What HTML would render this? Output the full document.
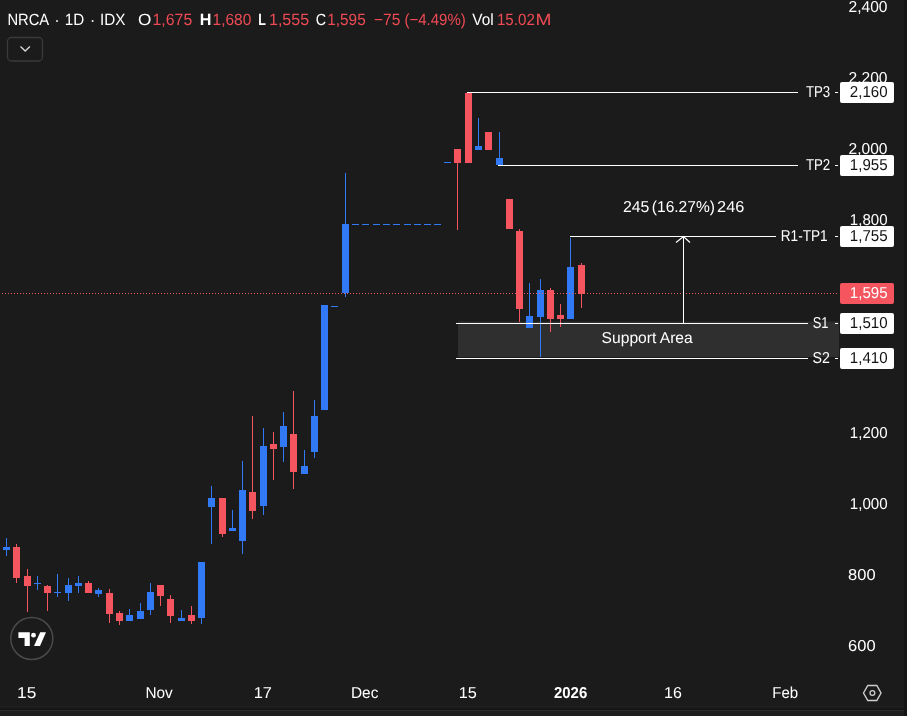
<!DOCTYPE html>
<html><head><meta charset="utf-8"><style>
html,body{margin:0;padding:0;background:#1b1b1b;width:907px;height:716px;overflow:hidden}
svg{display:block}
text{font-family:"Liberation Sans",sans-serif;text-rendering:geometricPrecision}
</style></head><body>
<svg width="907" height="716" viewBox="0 0 907 716">
<rect width="907" height="716" fill="#1b1b1b"/>
<rect x="458" y="321.5" width="381" height="35.5" fill="#2f2f2f"/>
<rect x="6" y="538" width="1" height="18" fill="#3179f5"/>
<rect x="3" y="547" width="7" height="3" fill="#3179f5"/>
<rect x="16" y="544" width="1" height="39" fill="#f5555f"/>
<rect x="13" y="547" width="7" height="31" fill="#f5555f"/>
<rect x="27" y="569" width="1" height="43" fill="#f5555f"/>
<rect x="24" y="576" width="7" height="10" fill="#f5555f"/>
<rect x="37" y="576" width="1" height="14" fill="#3179f5"/>
<rect x="34" y="583" width="7" height="1" fill="#3179f5"/>
<rect x="47" y="585" width="1" height="26" fill="#f5555f"/>
<rect x="44" y="586" width="7" height="7" fill="#f5555f"/>
<rect x="57" y="574" width="1" height="23" fill="#3179f5"/>
<rect x="54" y="592" width="7" height="1" fill="#3179f5"/>
<rect x="68" y="578" width="1" height="23" fill="#3179f5"/>
<rect x="65" y="585" width="7" height="8" fill="#3179f5"/>
<rect x="78" y="576" width="1" height="17" fill="#3179f5"/>
<rect x="75" y="583" width="7" height="3" fill="#3179f5"/>
<rect x="88" y="581" width="1" height="12" fill="#f5555f"/>
<rect x="85" y="583" width="7" height="10" fill="#f5555f"/>
<rect x="98" y="588" width="1" height="9" fill="#3179f5"/>
<rect x="95" y="590" width="7" height="4" fill="#3179f5"/>
<rect x="109" y="589" width="1" height="34" fill="#f5555f"/>
<rect x="106" y="593" width="7" height="21" fill="#f5555f"/>
<rect x="119" y="611" width="1" height="14" fill="#f5555f"/>
<rect x="116" y="613" width="7" height="8" fill="#f5555f"/>
<rect x="129" y="609" width="1" height="12" fill="#3179f5"/>
<rect x="126" y="615" width="7" height="6" fill="#3179f5"/>
<rect x="140" y="603" width="1" height="16" fill="#3179f5"/>
<rect x="137" y="611" width="7" height="8" fill="#3179f5"/>
<rect x="150" y="583" width="1" height="32" fill="#3179f5"/>
<rect x="147" y="592" width="7" height="18" fill="#3179f5"/>
<rect x="160" y="585" width="1" height="21" fill="#f5555f"/>
<rect x="157" y="585" width="7" height="11" fill="#f5555f"/>
<rect x="170" y="595" width="1" height="28" fill="#f5555f"/>
<rect x="167" y="599" width="7" height="17" fill="#f5555f"/>
<rect x="181" y="610" width="1" height="11" fill="#3179f5"/>
<rect x="178" y="618" width="7" height="3" fill="#3179f5"/>
<rect x="191" y="606" width="1" height="18" fill="#f5555f"/>
<rect x="188" y="615" width="7" height="6" fill="#f5555f"/>
<rect x="201" y="562" width="1" height="62" fill="#3179f5"/>
<rect x="198" y="562" width="7" height="56" fill="#3179f5"/>
<rect x="211" y="486" width="1" height="58" fill="#3179f5"/>
<rect x="208" y="498" width="7" height="9" fill="#3179f5"/>
<rect x="222" y="498" width="1" height="39" fill="#f5555f"/>
<rect x="219" y="498" width="7" height="36" fill="#f5555f"/>
<rect x="232" y="510" width="1" height="21" fill="#3179f5"/>
<rect x="229" y="528" width="7" height="3" fill="#3179f5"/>
<rect x="242" y="461" width="1" height="93" fill="#3179f5"/>
<rect x="239" y="490" width="7" height="51" fill="#3179f5"/>
<rect x="252" y="416" width="1" height="103" fill="#f5555f"/>
<rect x="249" y="492" width="7" height="19" fill="#f5555f"/>
<rect x="263" y="428" width="1" height="87" fill="#3179f5"/>
<rect x="260" y="446" width="7" height="60" fill="#3179f5"/>
<rect x="273" y="432" width="1" height="48" fill="#f5555f"/>
<rect x="270" y="444" width="7" height="5" fill="#f5555f"/>
<rect x="283" y="412" width="1" height="50" fill="#3179f5"/>
<rect x="280" y="426" width="7" height="21" fill="#3179f5"/>
<rect x="293" y="391" width="1" height="98" fill="#f5555f"/>
<rect x="290" y="434" width="7" height="38" fill="#f5555f"/>
<rect x="304" y="450" width="1" height="24" fill="#3179f5"/>
<rect x="301" y="466" width="7" height="8" fill="#3179f5"/>
<rect x="314" y="400" width="1" height="58" fill="#3179f5"/>
<rect x="311" y="416" width="7" height="36" fill="#3179f5"/>
<rect x="324" y="305" width="1" height="105" fill="#3179f5"/>
<rect x="321" y="305" width="7" height="105" fill="#3179f5"/>
<rect x="331" y="306" width="7" height="1" fill="#3179f5"/>
<rect x="345" y="173" width="1" height="124" fill="#3179f5"/>
<rect x="342" y="224" width="7" height="69" fill="#3179f5"/>
<rect x="352" y="224" width="7" height="1" fill="#3179f5"/>
<rect x="362" y="224" width="7" height="1" fill="#3179f5"/>
<rect x="373" y="224" width="7" height="1" fill="#3179f5"/>
<rect x="383" y="224" width="7" height="1" fill="#3179f5"/>
<rect x="393" y="224" width="7" height="1" fill="#3179f5"/>
<rect x="404" y="224" width="7" height="1" fill="#3179f5"/>
<rect x="414" y="224" width="7" height="1" fill="#3179f5"/>
<rect x="424" y="224" width="7" height="1" fill="#3179f5"/>
<rect x="434" y="224" width="7" height="1" fill="#3179f5"/>
<rect x="444" y="162" width="7" height="1" fill="#3179f5"/>
<rect x="457" y="149" width="1" height="81" fill="#f5555f"/>
<rect x="454" y="149" width="7" height="14" fill="#f5555f"/>
<rect x="468" y="93" width="1" height="70" fill="#f5555f"/>
<rect x="465" y="93" width="7" height="70" fill="#f5555f"/>
<rect x="478" y="118" width="1" height="32" fill="#3179f5"/>
<rect x="475" y="146" width="7" height="4" fill="#3179f5"/>
<rect x="488" y="132" width="1" height="18" fill="#f5555f"/>
<rect x="485" y="132" width="7" height="18" fill="#f5555f"/>
<rect x="499" y="132" width="1" height="33" fill="#3179f5"/>
<rect x="496" y="158" width="7" height="7" fill="#3179f5"/>
<rect x="509" y="199" width="1" height="30" fill="#f5555f"/>
<rect x="506" y="199" width="7" height="30" fill="#f5555f"/>
<rect x="519" y="229" width="1" height="93" fill="#f5555f"/>
<rect x="516" y="231" width="7" height="78" fill="#f5555f"/>
<rect x="529" y="283" width="1" height="45" fill="#3179f5"/>
<rect x="526" y="316" width="7" height="12" fill="#3179f5"/>
<rect x="540" y="279" width="1" height="78" fill="#3179f5"/>
<rect x="537" y="290" width="7" height="27" fill="#3179f5"/>
<rect x="550" y="288" width="1" height="44" fill="#f5555f"/>
<rect x="547" y="290" width="7" height="29" fill="#f5555f"/>
<rect x="560" y="304" width="1" height="23" fill="#f5555f"/>
<rect x="557" y="315" width="7" height="4" fill="#f5555f"/>
<rect x="570" y="238" width="1" height="81" fill="#3179f5"/>
<rect x="567" y="267" width="7" height="52" fill="#3179f5"/>
<rect x="581" y="263" width="1" height="45" fill="#f5555f"/>
<rect x="578" y="265" width="7" height="29" fill="#f5555f"/>
<line x1="2" y1="293.5" x2="839" y2="293.5" stroke="#f5555f" stroke-width="1" stroke-dasharray="1 2"/>
<rect x="467" y="92" width="331" height="1" fill="#ffffff"/>
<rect x="498" y="165" width="300" height="1" fill="#ffffff"/>
<rect x="570" y="236" width="206" height="1" fill="#ffffff"/>
<rect x="456" y="323" width="352" height="1" fill="#ffffff"/>
<rect x="456" y="358" width="352" height="1" fill="#ffffff"/>
<rect x="683" y="236" width="1" height="87" fill="#ffffff"/>
<polyline points="676,242.5 683.5,236.5 690,242.5" fill="none" stroke="#ffffff" stroke-width="1.2"/>
<rect x="835" y="92" width="3" height="1" fill="#ffffff"/>
<rect x="835" y="165" width="3" height="1" fill="#ffffff"/>
<rect x="835" y="236" width="3" height="1" fill="#ffffff"/>
<rect x="835" y="323" width="3" height="1" fill="#ffffff"/>
<rect x="835" y="358" width="3" height="1" fill="#ffffff"/>
<g style="will-change:transform"><text x="848.51" y="11.8" font-size="15.8" fill="#ffffff" font-weight="normal" textLength="39.01" lengthAdjust="spacingAndGlyphs">2,400</text></g>
<g style="will-change:transform"><text x="848.51" y="82.8" font-size="15.8" fill="#ffffff" font-weight="normal" textLength="39.01" lengthAdjust="spacingAndGlyphs">2,200</text></g>
<g style="will-change:transform"><text x="848.51" y="153.9" font-size="15.8" fill="#ffffff" font-weight="normal" textLength="39.01" lengthAdjust="spacingAndGlyphs">2,000</text></g>
<g style="will-change:transform"><text x="849.85" y="224.9" font-size="15.8" fill="#ffffff" font-weight="normal" textLength="37.66" lengthAdjust="spacingAndGlyphs">1,800</text></g>
<g style="will-change:transform"><text x="849.85" y="438.1" font-size="15.8" fill="#ffffff" font-weight="normal" textLength="37.66" lengthAdjust="spacingAndGlyphs">1,200</text></g>
<g style="will-change:transform"><text x="849.84" y="509.1" font-size="15.8" fill="#ffffff" font-weight="normal" textLength="37.87" lengthAdjust="spacingAndGlyphs">1,000</text></g>
<g style="will-change:transform"><text x="848.06" y="580.2" font-size="15.8" fill="#ffffff" font-weight="normal" textLength="27.52" lengthAdjust="spacingAndGlyphs">800</text></g>
<g style="will-change:transform"><text x="848.06" y="651.2" font-size="15.8" fill="#ffffff" font-weight="normal" textLength="27.52" lengthAdjust="spacingAndGlyphs">600</text></g>
<rect x="840" y="82" width="54" height="21" rx="2" fill="#ffffff"/>
<g style="will-change:transform"><text x="849.84" y="97" font-size="15.8" fill="#131313" font-weight="normal" textLength="37.76" lengthAdjust="spacingAndGlyphs">2,160</text></g>
<rect x="840" y="155" width="54" height="21" rx="2" fill="#ffffff"/>
<g style="will-change:transform"><text x="849.84" y="170" font-size="15.8" fill="#131313" font-weight="normal" textLength="37.76" lengthAdjust="spacingAndGlyphs">1,955</text></g>
<rect x="840" y="226" width="54" height="21" rx="2" fill="#ffffff"/>
<g style="will-change:transform"><text x="849.84" y="241" font-size="15.8" fill="#131313" font-weight="normal" textLength="37.76" lengthAdjust="spacingAndGlyphs">1,755</text></g>
<rect x="840" y="283" width="54" height="21" rx="2" fill="#f5555f"/>
<g style="will-change:transform"><text x="849.84" y="298" font-size="15.8" fill="#ffffff" font-weight="normal" textLength="37.76" lengthAdjust="spacingAndGlyphs">1,595</text></g>
<rect x="840" y="313" width="54" height="21" rx="2" fill="#ffffff"/>
<g style="will-change:transform"><text x="849.84" y="328" font-size="15.8" fill="#131313" font-weight="normal" textLength="37.76" lengthAdjust="spacingAndGlyphs">1,510</text></g>
<rect x="840" y="348" width="54" height="21" rx="2" fill="#ffffff"/>
<g style="will-change:transform"><text x="849.84" y="363" font-size="15.8" fill="#131313" font-weight="normal" textLength="37.76" lengthAdjust="spacingAndGlyphs">1,410</text></g>
<g style="will-change:transform"><text x="7.39" y="25" font-size="16.3" fill="#ffffff" font-weight="normal" textLength="41.83" lengthAdjust="spacingAndGlyphs">NRCA</text></g>
<g style="will-change:transform"><text x="64.87" y="25" font-size="16.3" fill="#ffffff" font-weight="normal" textLength="19.40" lengthAdjust="spacingAndGlyphs">1D</text></g>
<g style="will-change:transform"><text x="99.97" y="25" font-size="16.3" fill="#ffffff" font-weight="normal" textLength="25.38" lengthAdjust="spacingAndGlyphs">IDX</text></g>
<g style="will-change:transform"><text x="138.05" y="25" font-size="16.3" fill="#ffffff" font-weight="normal" textLength="13.36" lengthAdjust="spacingAndGlyphs">O</text></g>
<g style="will-change:transform"><text x="152.53" y="25" font-size="16.3" fill="#ec4a54" font-weight="normal" textLength="39.71" lengthAdjust="spacingAndGlyphs">1,675</text></g>
<g style="will-change:transform"><text x="199.81" y="25" font-size="16.3" fill="#ffffff" font-weight="bold" textLength="11.65" lengthAdjust="spacingAndGlyphs">H</text></g>
<g style="will-change:transform"><text x="212.55" y="25" font-size="16.3" fill="#ec4a54" font-weight="normal" textLength="38.71" lengthAdjust="spacingAndGlyphs">1,680</text></g>
<g style="will-change:transform"><text x="258.23" y="25" font-size="16.3" fill="#ffffff" font-weight="bold" textLength="7.63" lengthAdjust="spacingAndGlyphs">L</text></g>
<g style="will-change:transform"><text x="269.02" y="25" font-size="16.3" fill="#ec4a54" font-weight="normal" textLength="40.02" lengthAdjust="spacingAndGlyphs">1,555</text></g>
<g style="will-change:transform"><text x="315.72" y="25" font-size="16.3" fill="#ffffff" font-weight="normal" textLength="10.35" lengthAdjust="spacingAndGlyphs">C</text></g>
<g style="will-change:transform"><text x="327.26" y="25" font-size="16.3" fill="#ec4a54" font-weight="normal" textLength="38.45" lengthAdjust="spacingAndGlyphs">1,595</text></g>
<g style="will-change:transform"><text x="374.05" y="25" font-size="16.3" fill="#ec4a54" font-weight="normal" textLength="26.35" lengthAdjust="spacingAndGlyphs">−75</text></g>
<g style="will-change:transform"><text x="404.38" y="25" font-size="16.3" fill="#ec4a54" font-weight="normal" textLength="61.41" lengthAdjust="spacingAndGlyphs">(−4.49%)</text></g>
<g style="will-change:transform"><text x="472.30" y="25" font-size="16.3" fill="#ffffff" font-weight="normal" textLength="21.41" lengthAdjust="spacingAndGlyphs">Vol</text></g>
<g style="will-change:transform"><text x="496.97" y="25" font-size="16.3" fill="#ec4a54" font-weight="normal" textLength="37.82" lengthAdjust="spacingAndGlyphs">15.02</text></g>
<g style="will-change:transform"><text x="535.53" y="25" font-size="16.3" fill="#ec4a54" font-weight="normal" textLength="15.94" lengthAdjust="spacingAndGlyphs">M</text></g>
<g style="will-change:transform"><text x="805.90" y="97" font-size="15.8" fill="#ffffff" font-weight="normal" textLength="24.29" lengthAdjust="spacingAndGlyphs">TP3</text></g>
<g style="will-change:transform"><text x="805.90" y="170" font-size="15.8" fill="#ffffff" font-weight="normal" textLength="24.29" lengthAdjust="spacingAndGlyphs">TP2</text></g>
<g style="will-change:transform"><text x="780.74" y="241" font-size="15.8" fill="#ffffff" font-weight="normal" textLength="46.94" lengthAdjust="spacingAndGlyphs">R1-TP1</text></g>
<g style="will-change:transform"><text x="812.68" y="328" font-size="15.8" fill="#ffffff" font-weight="normal" textLength="15.78" lengthAdjust="spacingAndGlyphs">S1</text></g>
<g style="will-change:transform"><text x="812.60" y="363" font-size="15.8" fill="#ffffff" font-weight="normal" textLength="17.40" lengthAdjust="spacingAndGlyphs">S2</text></g>
<g style="will-change:transform"><text x="623.00" y="212" font-size="15.8" fill="#ffffff" font-weight="normal" textLength="26.36" lengthAdjust="spacingAndGlyphs">245</text></g>
<g style="will-change:transform"><text x="651.82" y="212" font-size="15.8" fill="#ffffff" font-weight="normal" textLength="63.08" lengthAdjust="spacingAndGlyphs">(16.27%)</text></g>
<g style="will-change:transform"><text x="717.07" y="212" font-size="15.8" fill="#ffffff" font-weight="normal" textLength="27.20" lengthAdjust="spacingAndGlyphs">246</text></g>
<g style="will-change:transform"><text x="601.61" y="343" font-size="15.8" fill="#ffffff" font-weight="normal" textLength="91.12" lengthAdjust="spacingAndGlyphs">Support Area</text></g>
<g style="will-change:transform"><text x="17.11" y="698" font-size="15.8" fill="#ffffff" font-weight="normal" textLength="19.23" lengthAdjust="spacingAndGlyphs">15</text></g>
<g style="will-change:transform"><text x="145.53" y="698" font-size="15.8" fill="#ffffff" font-weight="normal" textLength="27.26" lengthAdjust="spacingAndGlyphs">Nov</text></g>
<g style="will-change:transform"><text x="253.66" y="698" font-size="15.8" fill="#ffffff" font-weight="normal" textLength="18.24" lengthAdjust="spacingAndGlyphs">17</text></g>
<g style="will-change:transform"><text x="350.92" y="698" font-size="15.8" fill="#ffffff" font-weight="normal" textLength="27.47" lengthAdjust="spacingAndGlyphs">Dec</text></g>
<g style="will-change:transform"><text x="458.77" y="698" font-size="15.8" fill="#ffffff" font-weight="normal" textLength="18.13" lengthAdjust="spacingAndGlyphs">15</text></g>
<g style="will-change:transform"><text x="554.00" y="698" font-size="15.8" fill="#ffffff" font-weight="bold" textLength="33.25" lengthAdjust="spacingAndGlyphs">2026</text></g>
<g style="will-change:transform"><text x="663.99" y="698" font-size="15.8" fill="#ffffff" font-weight="normal" textLength="17.80" lengthAdjust="spacingAndGlyphs">16</text></g>
<g style="will-change:transform"><text x="772.35" y="698" font-size="15.8" fill="#ffffff" font-weight="normal" textLength="25.87" lengthAdjust="spacingAndGlyphs">Feb</text></g>
<circle cx="57" cy="21" r="0.95" fill="#ffffff"/>
<circle cx="92.6" cy="21" r="0.95" fill="#ffffff"/>
<rect x="7.5" y="37.5" width="35" height="23.5" rx="4" fill="none" stroke="#3a3a3a" stroke-width="1.3"/>
<polyline points="20.5,46.5 25.2,51 29.9,46.5" fill="none" stroke="#d8d8d8" stroke-width="1.3"/>
<polygon points="863.5,693 867.8,685.5 876.8,685.5 881,693 876.8,700.5 867.8,700.5" fill="none" stroke="#cfcfcf" stroke-width="1.4"/>
<circle cx="872.4" cy="693" r="2.4" fill="none" stroke="#cfcfcf" stroke-width="1.3"/>
<circle cx="31.8" cy="638.5" r="21" fill="none" stroke="#4a4a4a" stroke-width="1.5"/>
<g fill="#ffffff"><path d="M18.4 632.2H29.8V646H24.6V638H18.4Z"/><path d="M40.2 632.2H46L40 646H34Z"/><circle cx="33.5" cy="635.2" r="2.4"/></g>
<rect x="0" y="706" width="907" height="1" fill="#202020"/>
<rect x="0" y="708" width="907" height="2" fill="#171717"/>
<rect x="0" y="710" width="907" height="1" fill="#2a2a2a"/>
<rect x="0" y="711" width="907" height="5" fill="#1e1e1e"/>
<rect x="904" y="0" width="3" height="716" fill="#151515"/>
</svg>
</body></html>
